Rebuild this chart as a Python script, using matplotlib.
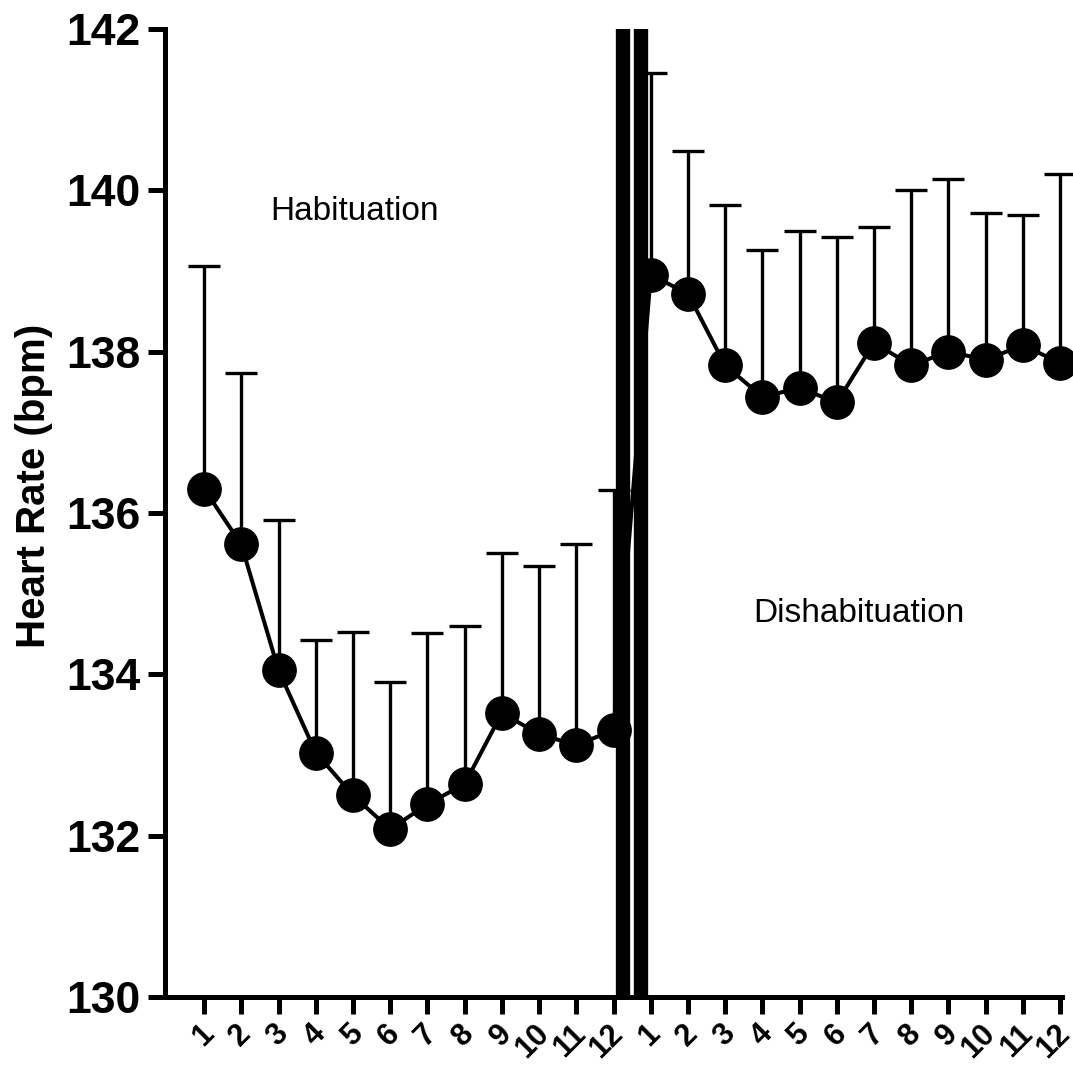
import matplotlib.pyplot as plt
import matplotlib.transforms as mtransforms
import numpy as np
plt.switch_backend('Agg')

plt.rcParams['font.family'] = ['Liberation Sans', 'DejaVu Sans']

# trial labels for both phases
trial_labels = [str(i) for i in range(1, 13)] * 2

# mean heart rate (bpm) and top of the error bar
hab_mean = [136.30, 135.61, 134.05, 133.03, 132.50, 132.08,
            132.39, 132.64, 133.52, 133.26, 133.12, 133.31]
hab_top = [139.06, 137.73, 135.91, 134.43, 134.52, 133.90,
           134.51, 134.60, 135.50, 135.34, 135.62, 136.29]
dis_mean = [138.95, 138.72, 137.83, 137.44, 137.55, 137.37,
            138.11, 137.83, 138.00, 137.90, 138.08, 137.86]
dis_top = [141.45, 140.49, 139.82, 139.26, 139.50, 139.42,
           139.55, 140.00, 140.14, 139.72, 139.69, 140.20]

mean = np.array(hab_mean + dis_mean)
err = np.array(hab_top + dis_top) - mean
x = np.arange(1, len(mean) + 1)

fig = plt.figure(figsize=(10.73, 10.66), dpi=100)
ax = fig.add_axes([165 / 1073, 69 / 1066, (1062 - 165) / 1073, (997 - 29) / 1066])

# error bars (upper only)
ax.errorbar(x, mean, yerr=[np.zeros_like(err), err], fmt='none',
            ecolor='black', elinewidth=2.4, capsize=11.5, capthick=2.4,
            zorder=2, clip_on=False)
ax.plot(x, mean, '-', color='black', lw=2.9, zorder=3, clip_on=False)
ax.plot(x, mean, 'o', color='black', ms=24, zorder=4, clip_on=False)

# axis break between the two phases
for xb in (12.25, 12.75):
    ax.axvline(xb, color='black', lw=10.3, zorder=5, solid_capstyle='butt')

ax.set_xlim(-0.05, 24.05)
ax.set_ylim(130, 142)
ax.set_yticks(np.arange(130, 143, 2))
ax.set_xticks(x)

ax.spines['top'].set_visible(False)
ax.spines['right'].set_visible(False)
for s in ('left', 'bottom'):
    ax.spines[s].set_linewidth(3.6)
ax.tick_params(axis='both', width=3.6, length=12.5)
ax.tick_params(axis='y', pad=5)
ax.tick_params(axis='x', pad=11)

ax.set_xticklabels(trial_labels, rotation=45, rotation_mode='anchor',
                   ha='right', va='center', fontsize=22, fontweight='bold')
shift = mtransforms.ScaledTranslation(5 / 100, 0, fig.dpi_scale_trans)
for lab in ax.get_xticklabels():
    lab.set_transform(lab.get_transform() + shift)
for lab in ax.get_yticklabels():
    lab.set_fontsize(32)
    lab.set_fontweight('bold')

ax.set_ylabel('Heart Rate (bpm)', fontsize=29, fontweight='bold')
ax.yaxis.set_label_coords((53 - 165) / 897, (1066 - 486 - 69) / 968)

ax.text(2.766, 139.63, 'Habituation', fontsize=24, ha='left', va='baseline')
ax.text(15.75, 134.65, 'Dishabituation', fontsize=24, ha='left', va='baseline')

plt.savefig('out.png', dpi=100)
